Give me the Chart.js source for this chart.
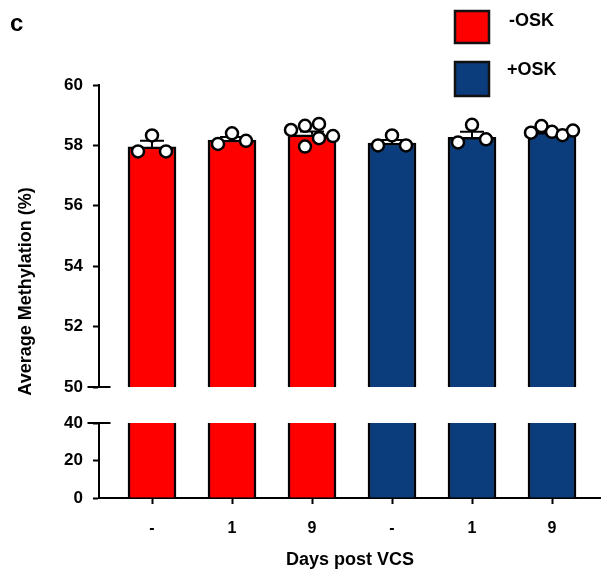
<!DOCTYPE html>
<html>
<head>
<meta charset="utf-8">
<script src="https://cdn.jsdelivr.net/npm/chart.js@4/dist/chart.umd.min.js"></script>
<style>
  html, body { margin: 0; padding: 0; background: #ffffff; }
  #plot { display: block; }
</style>
</head>
<body>
<canvas id="plot" width="601" height="573"></canvas>
<script>
// Days post VCS for each bar, and which treatment group it belongs to
const dayLabels = ['-', '1', '9', '-', '1', '9'];
const groupOfBar = [0, 0, 0, 1, 1, 1];
const groupNames = ['-OSK', '+OSK'];
const groupColors = ['#fe0000', '#0b3d7c'];

// Average methylation (%) per bar: mean and SEM
const meanMethylation = [57.95, 58.18, 58.35, 58.08, 58.27, 58.43];
const semMethylation = [0.20, 0.10, 0.11, 0.10, 0.18, 0.05];

// Individual replicates per bar
const replicates = [
  [57.80, 58.33, 57.80],
  [58.05, 58.40, 58.15],
  [58.51, 57.96, 58.65, 58.71, 58.24, 58.31],
  [58.00, 58.33, 58.00],
  [58.10, 58.68, 58.20],
  [58.42, 58.64, 58.45, 58.34, 58.49]
];

// Broken y axis: upper and lower segments
const upperTicks = [50, 52, 54, 56, 58, 60];
const lowerTicks = [0, 20, 40];

const FONT = '"Liberation Sans", Arial, Helvetica, sans-serif';
Chart.defaults.font.family = FONT;
Chart.defaults.color = '#000';

const barColors = groupOfBar.map(g => groupColors[g]);
const barPoints = meanMethylation.map((v, i) => ({ x: i, y: v }));
const replicatePoints = [];
replicates.forEach((vals, i) => vals.forEach(v => replicatePoints.push({ x: i, y: v })));

// Keep each bar dataset inside the band of its own y axis
const segmentClip = {
  id: 'segmentClip',
  beforeDatasetDraw(chart, args) {
    const ds = chart.data.datasets[args.index];
    if (!ds.clipToAxis) return;
    const ys = args.meta.yScale, a = chart.chartArea;
    const ctx = chart.ctx;
    ctx.save();
    ctx.beginPath();
    ctx.rect(a.left, ys.top, a.right - a.left, ys.bottom - ys.top);
    ctx.clip();
  },
  afterDatasetDraw(chart, args) {
    const ds = chart.data.datasets[args.index];
    if (!ds.clipToAxis) return;
    chart.ctx.restore();
    if (ds.errorBars) {
      const ctx = chart.ctx, xs = chart.scales.x, ys = args.meta.yScale;
      ctx.save();
      ctx.strokeStyle = '#000';
      ctx.lineWidth = 2;
      meanMethylation.forEach((m, i) => {
        const x = xs.getPixelForValue(i);
        const y0 = ys.getPixelForValue(m);
        const y1 = ys.getPixelForValue(m + semMethylation[i]);
        ctx.beginPath();
        ctx.moveTo(x, y0); ctx.lineTo(x, y1);
        ctx.moveTo(x - 12, y1); ctx.lineTo(x + 12, y1);
        ctx.stroke();
      });
      ctx.restore();
    }
  }
};

// Column scatter: dots closer than rowGap pixels share a row, and each row
// is spread evenly around the bar centre (kept within maxSpread).
function columnScatter(ys, rowGap, step, maxSpread) {
  const order = ys.map((_, k) => k).sort((a, b) => ys[b] - ys[a]);
  const rows = [];
  let cur = null;
  for (const k of order) {
    if (!cur || cur.start - ys[k] >= rowGap) {
      cur = { start: ys[k], members: [] };
      rows.push(cur);
    }
    cur.members.push(k);
  }
  const dx = ys.map(() => 0);
  rows.forEach(r => {
    const m = r.members.slice().sort((a, b) => a - b);
    const n = m.length;
    const s = n > 1 ? Math.min(step, maxSpread / (n - 1)) : 0;
    m.forEach((k, j) => { dx[k] = (j - (n - 1) / 2) * s; });
  });
  return dx;
}

const dotScatter = {
  id: 'dotScatter',
  afterDatasetsUpdate(chart) {
    chart.data.datasets.forEach((ds, di) => {
      if (!ds.spreadDots) return;
      const meta = chart.getDatasetMeta(di);
      const groups = {};
      meta.data.forEach((el, j) => {
        const key = meta._parsed[j].x;
        (groups[key] = groups[key] || []).push(el);
      });
      Object.values(groups).forEach(els => {
        const offs = columnScatter(els.map(e => e.y), 18, 14, 42);
        els.forEach((e, k) => { e.x += offs[k]; });
      });
    });
  }
};

// Panel letter, rotated y title, end caps of the axis break, legend
const decorations = {
  id: 'decorations',
  afterDraw(chart) {
    const ctx = chart.ctx;
    const up = chart.scales.yUpper, lo = chart.scales.yLower;
    const axisX = chart.chartArea.left;
    ctx.save();
    ctx.strokeStyle = '#000';
    ctx.lineWidth = 2;
    [[up, upperTicks[0]], [lo, lowerTicks[lowerTicks.length - 1]]].forEach(([s, v]) => {
      const y = Math.round(s.getPixelForValue(v));
      ctx.beginPath();
      ctx.moveTo(axisX - 11.5, y); ctx.lineTo(axisX + 11.5, y);
      ctx.stroke();
    });

    ctx.fillStyle = '#000';
    ctx.font = 'bold 24px ' + FONT;
    ctx.textAlign = 'left';
    ctx.textBaseline = 'alphabetic';
    ctx.fillText('c', 10, 31);

    ctx.save();
    ctx.translate(26, (up.top + lo.bottom) / 2);
    ctx.rotate(-Math.PI / 2);
    ctx.font = 'bold 18px ' + FONT;
    ctx.textAlign = 'center';
    ctx.textBaseline = 'middle';
    ctx.fillText('Average Methylation (%)', 0, 0);
    ctx.restore();

    const legendBoxes = [
      { x: 455, y: 11, w: 34, h: 32, tx: 509, ty: 21 },
      { x: 455, y: 62, w: 34, h: 34, tx: 507, ty: 70 }
    ];
    groupNames.forEach((name, g) => {
      const b = legendBoxes[g];
      ctx.fillStyle = groupColors[g];
      ctx.fillRect(b.x, b.y, b.w, b.h);
      ctx.lineWidth = 2.5;
      ctx.strokeStyle = '#111';
      ctx.strokeRect(b.x, b.y, b.w, b.h);
      ctx.fillStyle = '#000';
      ctx.font = 'bold 18px ' + FONT;
      ctx.textAlign = 'left';
      ctx.textBaseline = 'middle';
      ctx.fillText(name, b.tx, b.ty);
    });
    ctx.restore();
  }
};

const yCommon = {
  type: 'linear',
  position: 'left',
  stack: 'methylation',
  grid: { drawOnChartArea: false, drawTicks: true, tickLength: 6, tickWidth: 2, tickColor: '#000' },
  border: { display: true, color: '#000', width: 2 },
  afterFit(s) { s.width = 60; }
};

new Chart(document.getElementById('plot'), {
  data: {
    datasets: [
      {
        type: 'scatter',
        label: 'replicates',
        data: replicatePoints,
        xAxisID: 'x',
        yAxisID: 'yUpper',
        pointRadius: 6,
        pointBorderWidth: 2.5,
        pointBackgroundColor: '#ffffff',
        pointBorderColor: '#000000',
        showLine: false,
        spreadDots: true,
        order: 1
      },
      {
        type: 'bar',
        label: 'upper',
        data: barPoints,
        xAxisID: 'x',
        yAxisID: 'yUpper',
        backgroundColor: barColors,
        borderColor: '#000',
        borderWidth: 2.5,
        borderSkipped: 'start',
        barThickness: 48,
        grouped: false,
        clipToAxis: true,
        errorBars: true,
        order: 3
      },
      {
        type: 'bar',
        label: 'lower',
        data: barPoints,
        xAxisID: 'x',
        yAxisID: 'yLower',
        backgroundColor: barColors,
        borderColor: '#000',
        borderWidth: 2.5,
        borderSkipped: 'start',
        barThickness: 48,
        grouped: false,
        clipToAxis: true,
        order: 4
      }
    ]
  },
  options: {
    responsive: false,
    animation: false,
    devicePixelRatio: 1,
    events: [],
    layout: { autoPadding: false, padding: { left: 39, top: 85, right: 0, bottom: 0 } },
    plugins: { legend: { display: false }, tooltip: { enabled: false } },
    scales: {
      x: {
        type: 'linear',
        position: 'bottom',
        offset: false,
        min: -0.6625,
        max: 5.6125,
        afterBuildTicks(s) { s.ticks = dayLabels.map((_, i) => ({ value: i })); },
        ticks: {
          callback: v => dayLabels[v],
          font: { size: 16, weight: 'bold' },
          color: '#000',
          padding: 15,
          autoSkip: false,
          maxRotation: 0
        },
        grid: { offset: false, drawOnChartArea: false, drawTicks: true, tickLength: 6, tickWidth: 2, tickColor: '#000' },
        border: { display: true, color: '#000', width: 2 },
        title: {
          display: true,
          text: 'Days post VCS',
          font: { size: 18, weight: 'bold' },
          color: '#000',
          padding: { top: 0, bottom: 2 }
        },
        afterFit(s) { s.height = 75; }
      },
      yUpper: Object.assign({}, yCommon, {
        weight: 3,
        stackWeight: 302,
        min: upperTicks[0],
        max: upperTicks[upperTicks.length - 1],
        afterBuildTicks(s) { s.ticks = upperTicks.map(v => ({ value: v })); },
        ticks: { font: { size: 17, weight: 'bold' }, color: '#000', padding: 10, autoSkip: false }
      }),
      yGap: {
        type: 'linear',
        position: 'left',
        stack: 'methylation',
        weight: 2,
        stackWeight: 36,
        min: 0,
        max: 1,
        ticks: { display: false },
        grid: { display: false },
        border: { display: false },
        afterFit(s) { s.width = 60; }
      },
      yLower: Object.assign({}, yCommon, {
        weight: 1,
        stackWeight: 75,
        min: lowerTicks[0],
        max: lowerTicks[lowerTicks.length - 1],
        afterBuildTicks(s) { s.ticks = lowerTicks.map(v => ({ value: v })); },
        ticks: { font: { size: 17, weight: 'bold' }, color: '#000', padding: 10, autoSkip: false }
      })
    }
  },
  plugins: [segmentClip, dotScatter, decorations]
});
</script>
</body>
</html>
